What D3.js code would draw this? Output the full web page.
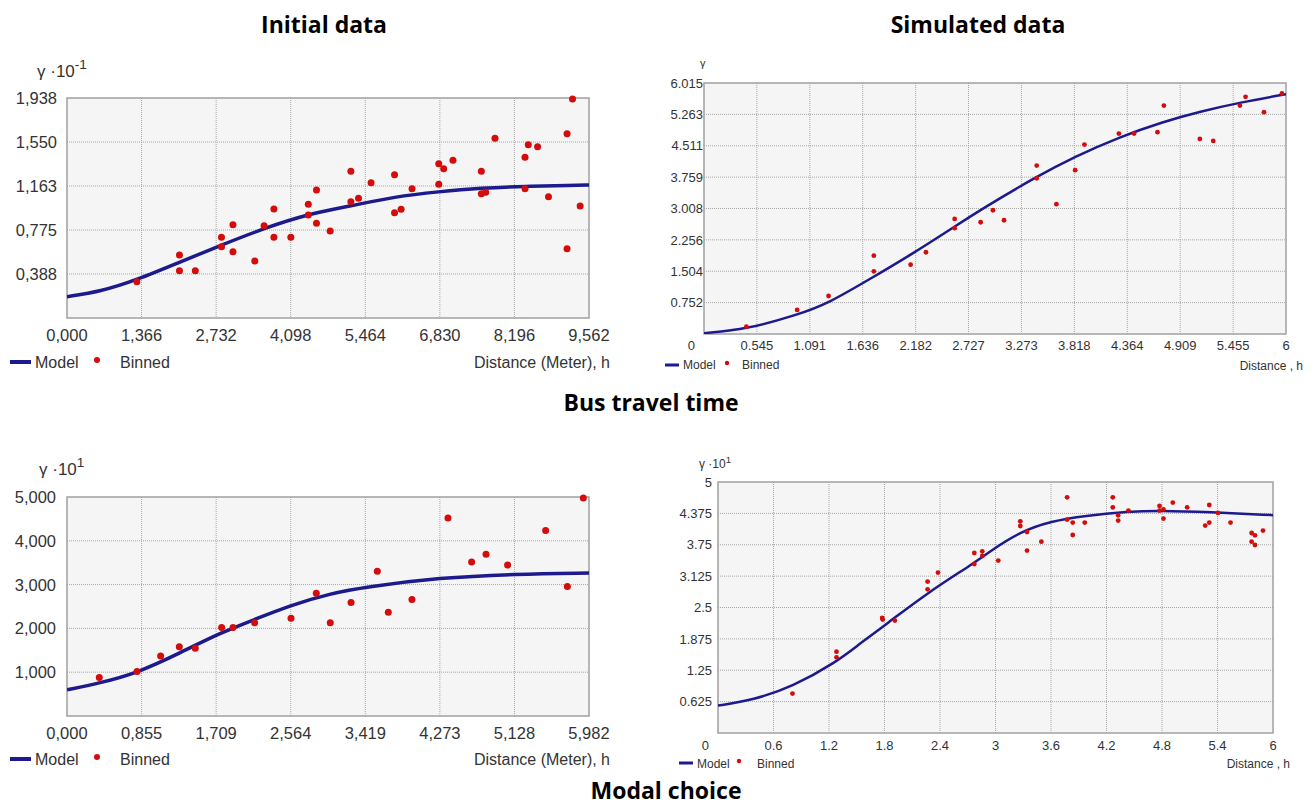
<!DOCTYPE html>
<html>
<head>
<meta charset="utf-8">
<title>Variogram panels</title>
<script src="https://d3js.org/d3.v7.min.js"></script>
<style>
  body {margin:0; background:#fff;}
  svg text {font-family:"Liberation Sans", Arial, sans-serif; fill:#333;}
  .title {font-family:"Open Sans", sans-serif; font-weight:700; fill:#000;}
  .grid {stroke:#a6a6a6; stroke-width:1; stroke-dasharray:1,1;}
</style>
</head>
<body>
<svg id="chart" width="1316" height="805"></svg>
<script>
// ---- Bus travel time, initial data ----
var initXTicks = [0, 1.366, 2.732, 4.098, 5.464, 6.830, 8.196, 9.562];
var initXLabels = ["0,000", "1,366", "2,732", "4,098", "5,464", "6,830", "8,196", "9,562"];
var initYTicks = [0.388, 0.775, 1.163, 1.550, 1.938];
var initYLabels = ["0,388", "0,775", "1,163", "1,550", "1,938"];
var initBinnedH = [1.28, 2.06, 2.06, 2.35, 2.83, 2.83, 3.04, 3.04, 3.44, 3.61, 3.79, 3.79, 4.10, 4.42, 4.42, 4.57, 4.57, 4.82,
  5.20, 5.20, 5.34, 5.57, 6.00, 6.00, 6.12, 6.32, 6.81, 6.90, 6.81, 7.07, 7.59, 7.59, 7.67, 7.84, 8.39, 8.45, 8.62, 8.39,
  8.82, 9.16, 9.26, 9.16, 9.40];
var initBinnedG = [0.320, 0.555, 0.417, 0.417, 0.711, 0.628, 0.822, 0.584, 0.502, 0.813, 0.960, 0.711, 0.711, 1.002, 0.907, 1.128, 0.834, 0.766,
  1.292, 1.025, 1.054, 1.192, 1.262, 0.928, 0.957, 1.139, 1.359, 1.315, 1.178, 1.389, 1.292, 1.095, 1.107, 1.583, 1.416, 1.527, 1.509, 1.139,
  1.069, 1.624, 1.929, 0.611, 0.987];
var initModelH = [0, 0.61, 1.28, 2.06, 2.83, 3.61, 4.42, 5.20, 6.00, 6.81, 7.59, 8.39, 9.26, 9.562];
var initModelG = [0.188, 0.232, 0.335, 0.491, 0.643, 0.790, 0.916, 0.987, 1.069, 1.113, 1.145, 1.160, 1.169, 1.172];

// ---- Bus travel time, simulated data ----
var simXTicks = [0, 0.545, 1.091, 1.636, 2.182, 2.727, 3.273, 3.818, 4.364, 4.909, 5.455, 6];
var simXLabels = ["0", "0.545", "1.091", "1.636", "2.182", "2.727", "3.273", "3.818", "4.364", "4.909", "5.455", "6"];
var simYTicks = [0.752, 1.504, 2.256, 3.008, 3.759, 4.511, 5.263, 6.015];
var simYLabels = ["0.752", "1.504", "2.256", "3.008", "3.759", "4.511", "5.263", "6.015"];
var simBinnedH = [0.437, 0.960, 1.284, 1.751, 1.751, 2.130, 2.288, 2.584, 2.584, 2.852, 2.979, 3.093, 3.430, 3.430, 3.633,
  3.826, 3.922, 4.277, 4.434, 4.675, 4.741, 5.112, 5.250, 5.525, 5.583, 5.773, 5.958];
var simBinnedG = [0.175, 0.576, 0.911, 1.878, 1.503, 1.662, 1.959, 2.758, 2.535, 2.678, 2.966, 2.726, 4.036, 3.733, 3.110,
  3.926, 4.540, 4.803, 4.803, 4.837, 5.475, 4.676, 4.628, 5.475, 5.683, 5.316, 5.763];
var simModelH = [0, 0.437, 0.96, 1.284, 1.751, 2.13, 2.584, 2.88, 3.43, 3.826, 4.277, 4.741, 5.112, 5.525, 6];
var simModelG = [0.02, 0.112, 0.456, 0.735, 1.375, 1.894, 2.574, 3.02, 3.773, 4.252, 4.717, 5.091, 5.331, 5.547, 5.748];

// ---- Modal choice, initial data ----
var modalXTicks = [0, 0.855, 1.709, 2.564, 3.419, 4.273, 5.128, 5.982];
var modalXLabels = ["0,000", "0,855", "1,709", "2,564", "3,419", "4,273", "5,128", "5,982"];
var modalYTicks = [1, 2, 3, 4, 5];
var modalYLabels = ["1,000", "2,000", "3,000", "4,000", "5,000"];
var modalBinnedH = [0.370, 0.802, 1.073, 1.287, 1.470, 1.772, 1.902, 2.150, 2.567, 2.857, 3.017, 3.255, 3.556, 3.682,
  3.953, 4.366, 4.637, 4.802, 5.049, 5.485, 5.734, 5.917];
var modalBinnedG = [0.878, 1.014, 1.370, 1.582, 1.545, 2.023, 2.023, 2.127, 2.234, 2.802, 2.127, 2.591, 3.302, 2.370,
  2.659, 4.523, 3.514, 3.695, 3.445, 4.234, 2.955, 4.977];
var modalModelH = [0, 0.37, 0.80, 1.287, 1.77, 2.15, 2.567, 3.017, 3.426, 4.27, 5.137, 5.982];
var modalModelG = [0.598, 0.75, 0.977, 1.432, 1.909, 2.205, 2.53, 2.795, 2.945, 3.159, 3.241, 3.264];

// ---- Modal choice, simulated data ----
var msimXTicks = [0, 0.6, 1.2, 1.8, 2.4, 3, 3.6, 4.2, 4.8, 5.4, 6];
var msimXLabels = ["0", "0.6", "1.2", "1.8", "2.4", "3", "3.6", "4.2", "4.8", "5.4", "6"];
var msimYTicks = [0.625, 1.25, 1.875, 2.5, 3.125, 3.75, 4.375, 5];
var msimYLabels = ["0.625", "1.25", "1.875", "2.5", "3.125", "3.75", "4.375", "5"];
var msimBinnedH = [0.805, 1.281, 1.281, 1.775, 1.78, 1.912, 2.266, 2.266, 2.378, 2.771, 2.771, 2.857, 2.857, 3.030,
  3.268, 3.268, 3.341, 3.341, 3.496, 3.774, 3.774, 3.835, 3.835, 3.965, 4.268, 4.268, 4.326, 4.326, 4.437, 4.773,
  4.773, 4.816, 4.816, 4.917, 5.072, 5.267, 5.311, 5.311, 5.405, 5.541, 5.769, 5.805, 5.769, 5.805, 5.892];
var msimBinnedG = [0.785, 1.621, 1.508, 2.291, 2.26, 2.239, 3.016, 2.862, 3.195, 3.586, 3.367, 3.619, 3.526, 3.434,
  4.217, 4.124, 4.004, 3.633, 3.812, 4.695, 4.251, 4.191, 3.944, 4.191, 4.695, 4.496, 4.337, 4.231, 4.430, 4.522,
  4.430, 4.456, 4.271, 4.590, 4.496, 4.131, 4.542, 4.191, 4.383, 4.191, 3.984, 3.938, 3.812, 3.745, 4.032];
var msimModelH = [0, 0.379, 0.805, 1.281, 1.53, 1.8, 2.266, 2.771, 2.94, 3.268, 3.6, 3.965, 4.437, 4.773, 5.311, 6];
var msimModelG = [0.546, 0.658, 0.921, 1.414, 1.776, 2.14, 2.796, 3.388, 3.62, 4.01, 4.22, 4.33, 4.41, 4.43, 4.40, 4.34];

var svg = d3.select('#chart');

// panel titles
svg.append('text').attr('class', 'title').attr('x', 324).attr('y', 33).attr('text-anchor', 'middle').style('font-size', '23px').text('Initial data');
svg.append('text').attr('class', 'title').attr('x', 978).attr('y', 33).attr('text-anchor', 'middle').style('font-size', '23px').text('Simulated data');
svg.append('text').attr('class', 'title').attr('x', 651).attr('y', 411).attr('text-anchor', 'middle').style('font-size', '23px').text('Bus travel time');
svg.append('text').attr('class', 'title').attr('x', 666).attr('y', 799).attr('text-anchor', 'middle').style('font-size', '23px').text('Modal choice');

var panels = [
  {id: 'p1', l: 67, t: 98, r: 589, b: 318, xMax: 9.562, yMax: 1.938,
   xT: initXTicks, xL: initXLabels, yT: initYTicks, yL: initYLabels,
   bh: initBinnedH, bg: initBinnedG, mh: initModelH, mg: initModelG,
   font: 16.5, yLabEnd: 57, xLabDy: 23, zeroShift: 0,
   yTitle: {x: 37, y: 77, main: 'γ ·10', sup: '-1', size: 17},
   leg: {y: 362, x1: 10, x2: 31, tx: 35, dot: 97, bx: 120, ty: 368, size: 16, w: 4, r: 3},
   xTitle: {x: 610, y: 368, text: 'Distance (Meter), h', size: 16},
   lineW: 3.5, dotR: 3.5},
  {id: 'p2', l: 704, t: 83, r: 1286, b: 334, xMax: 6, yMax: 6.015,
   xT: simXTicks, xL: simXLabels, yT: simYTicks, yL: simYLabels,
   bh: simBinnedH, bg: simBinnedG, mh: simModelH, mg: simModelG,
   font: 13, yLabEnd: 703, xLabDy: 16, zeroShift: -12.6,
   yTitle: {x: 700, y: 67, main: 'γ', sup: '', size: 11},
   leg: {y: 365, x1: 665, x2: 679, tx: 683, dot: 727, bx: 742, ty: 369, size: 12, w: 3, r: 2.2},
   xTitle: {x: 1303, y: 370, text: 'Distance , h', size: 12},
   lineW: 2.5, dotR: 2.4},
  {id: 'p3', l: 67, t: 497, r: 589, b: 716, xMax: 5.982, yMax: 5,
   xT: modalXTicks, xL: modalXLabels, yT: modalYTicks, yL: modalYLabels,
   bh: modalBinnedH, bg: modalBinnedG, mh: modalModelH, mg: modalModelG,
   font: 16.5, yLabEnd: 56, xLabDy: 23, zeroShift: 0,
   yTitle: {x: 39, y: 475, main: 'γ ·10', sup: '1', size: 17},
   leg: {y: 759, x1: 10, x2: 31, tx: 35, dot: 97, bx: 120, ty: 765, size: 16, w: 4, r: 3},
   xTitle: {x: 610, y: 765, text: 'Distance (Meter), h', size: 16},
   lineW: 3.5, dotR: 3.5},
  {id: 'p4', l: 718, t: 482, r: 1273, b: 733, xMax: 6, yMax: 5,
   xT: msimXTicks, xL: msimXLabels, yT: msimYTicks, yL: msimYLabels,
   bh: msimBinnedH, bg: msimBinnedG, mh: msimModelH, mg: msimModelG,
   font: 13, yLabEnd: 712, xLabDy: 17, zeroShift: -12.6,
   yTitle: {x: 699, y: 468, main: 'γ ·10', sup: '1', size: 12},
   leg: {y: 763, x1: 679, x2: 693, tx: 697, dot: 739, bx: 757, ty: 768, size: 12, w: 3, r: 2.2},
   xTitle: {x: 1290, y: 768, text: 'Distance , h', size: 12},
   lineW: 2.5, dotR: 2.4}
];

panels.forEach(drawPanel);

function drawPanel(p) {
  var x = d3.scaleLinear().domain([0, p.xMax]).range([p.l, p.r]);
  var y = d3.scaleLinear().domain([0, p.yMax]).range([p.b, p.t]);
  var g = svg.append('g');

  g.append('rect').attr('x', p.l).attr('y', p.t).attr('width', p.r - p.l).attr('height', p.b - p.t)
    .attr('fill', '#f5f5f5');

  // dotted grid
  g.selectAll('.gx').data(p.xT.slice(1, -1)).enter().append('line').attr('class', 'grid')
    .attr('x1', d => x(d)).attr('x2', d => x(d)).attr('y1', p.t).attr('y2', p.b);
  g.selectAll('.gy').data(p.yT.slice(0, -1)).enter().append('line').attr('class', 'grid')
    .attr('y1', d => y(d)).attr('y2', d => y(d)).attr('x1', p.l).attr('x2', p.r);

  g.append('rect').attr('x', p.l).attr('y', p.t).attr('width', p.r - p.l).attr('height', p.b - p.t)
    .attr('fill', 'none').attr('stroke', '#a0a0a0').attr('stroke-width', 1.5);

  // tick labels
  g.selectAll('.xl').data(p.xT).enter().append('text')
    .attr('x', (d, i) => x(d) + (i === 0 ? p.zeroShift : 0)).attr('y', p.b + p.xLabDy)
    .attr('text-anchor', 'middle').style('font-size', p.font + 'px')
    .text((d, i) => p.xL[i]);
  g.selectAll('.yl').data(p.yT).enter().append('text')
    .attr('x', p.yLabEnd).attr('y', d => y(d)).attr('dy', '0.36em')
    .attr('text-anchor', 'end').style('font-size', p.font + 'px')
    .text((d, i) => p.yL[i]);

  // y axis title with exponent
  var yt = g.append('text').attr('x', p.yTitle.x).attr('y', p.yTitle.y).style('font-size', p.yTitle.size + 'px');
  yt.append('tspan').text(p.yTitle.main);
  if (p.yTitle.sup) {
    yt.append('tspan').attr('dy', -p.yTitle.size * 0.45).style('font-size', (p.yTitle.size * 0.8) + 'px').text(p.yTitle.sup);
  }

  // clip
  svg.append('clipPath').attr('id', 'clip-' + p.id).append('rect')
    .attr('x', p.l).attr('y', p.t - 2).attr('width', p.r - p.l).attr('height', p.b - p.t + 2);

  var model = p.mh.map((h, i) => [h, p.mg[i]]);
  var line = d3.line().x(d => x(d[0])).y(d => y(d[1])).curve(d3.curveBasis);
  g.append('path').datum(model).attr('d', line).attr('clip-path', 'url(#clip-' + p.id + ')')
    .attr('fill', 'none').attr('stroke', '#1d1a8e').attr('stroke-width', p.lineW);

  var pts = p.bh.map((h, i) => [h, p.bg[i]]);
  g.selectAll('.pt').data(pts).enter().append('circle')
    .attr('cx', d => x(d[0])).attr('cy', d => y(d[1])).attr('r', p.dotR).attr('fill', '#d40c0c');

  // legend
  var L = p.leg;
  g.append('line').attr('x1', L.x1).attr('x2', L.x2).attr('y1', L.y).attr('y2', L.y)
    .attr('stroke', '#1d1a8e').attr('stroke-width', L.w);
  g.append('text').attr('x', L.tx).attr('y', L.ty).style('font-size', L.size + 'px').text('Model');
  g.append('circle').attr('cx', L.dot).attr('cy', L.y - 2).attr('r', L.r).attr('fill', '#d40c0c');
  g.append('text').attr('x', L.bx).attr('y', L.ty).style('font-size', L.size + 'px').text('Binned');

  g.append('text').attr('x', p.xTitle.x).attr('y', p.xTitle.y).attr('text-anchor', 'end')
    .style('font-size', p.xTitle.size + 'px').text(p.xTitle.text);
}
</script>
</body>
</html>
